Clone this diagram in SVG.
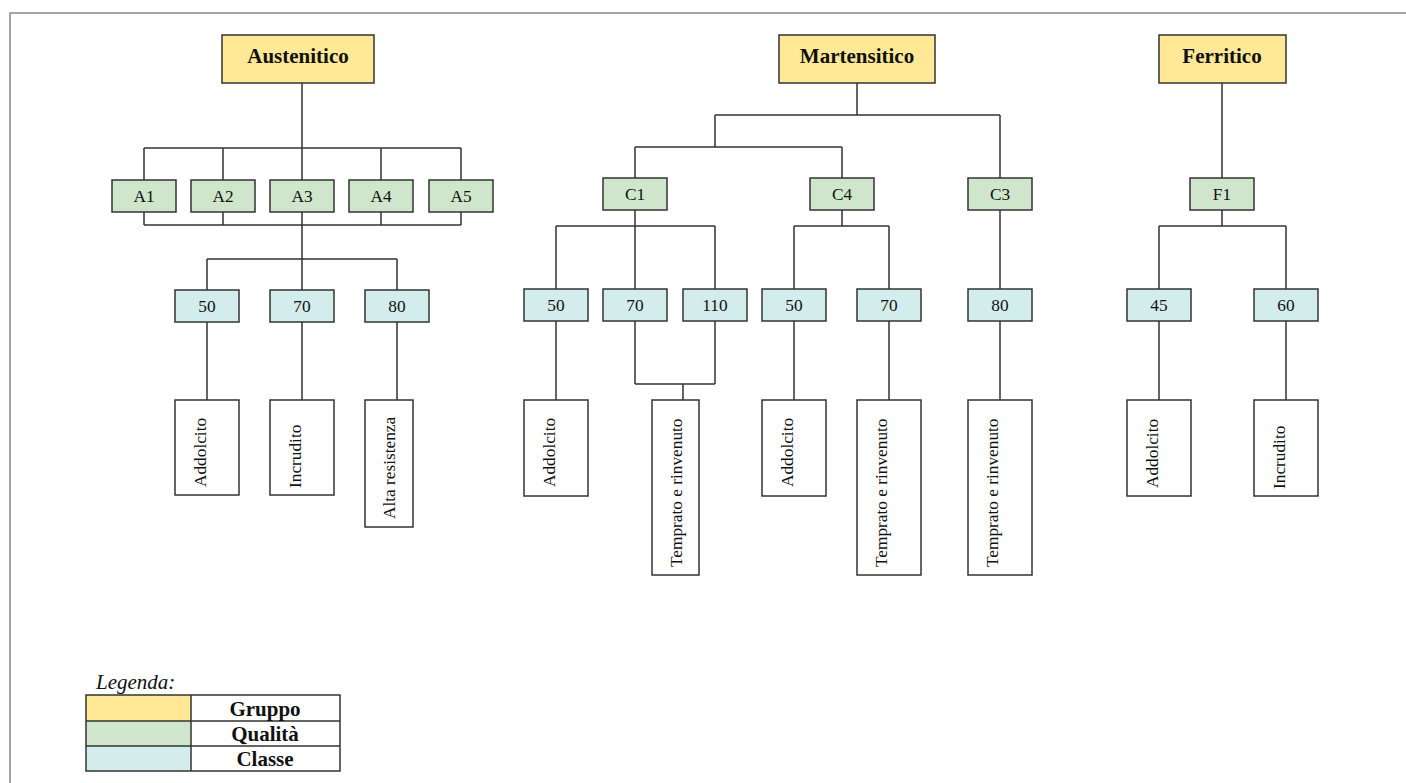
<svg xmlns="http://www.w3.org/2000/svg" width="1406" height="783" viewBox="0 0 1406 783">
<style>
.g{fill:#FFE896;stroke:#333;stroke-width:1.5}
.q{fill:#CFE6CC;stroke:#333;stroke-width:1.5}
.c{fill:#D3ECEC;stroke:#333;stroke-width:1.5}
.t{fill:#fff;stroke:#333;stroke-width:1.5}
.ln{fill:none;stroke:#333;stroke-width:1.5}
text{font-family:"Liberation Serif","Times New Roman",serif;fill:#111}
.gt{font-size:21px;font-weight:bold;text-anchor:middle}
.bt{font-size:17.3px;text-anchor:middle}
.vt{font-size:17.3px;text-anchor:start}
.lt{font-size:21px;font-weight:bold;text-anchor:middle}
</style>
<rect x="0" y="0" width="1406" height="783" fill="#fff"/>
<path d="M10,783 V13 H1406" fill="none" stroke="#888" stroke-width="1.5"/>

<g id="connectors" class="ln">
<!-- Austenitico -->
<path d="M302,83 V148 M144,148 H461 M144,148 V180 M223,148 V180 M302,148 V180 M381,148 V180 M461,148 V180"/>
<path d="M144,212 V225 M223,212 V225 M302,212 V225 M381,212 V225 M461,212 V225 M144,225 H461"/>
<path d="M302,225 V259 M207,259 H397 M207,259 V290 M302,259 V290 M397,259 V290"/>
<path d="M207,322 V400 M302,322 V400 M397,322 V400"/>
<!-- Martensitico -->
<path d="M857,83 V115 M715,115 H1000 M715,115 V147 M635,147 H842 M635,147 V178 M842,147 V178 M1000,115 V178"/>
<path d="M635,210 V289 M556,226 H715 M556,226 V289 M715,226 V289"/>
<path d="M842,210 V226 M794,226 H889 M794,226 V289 M889,226 V289"/>
<path d="M1000,210 V289"/>
<path d="M556,321 V400 M635,321 V384 M715,321 V384 M635,384 H715 M683,384 V400"/>
<path d="M794,321 V400 M889,321 V400 M1000,321 V400"/>
<!-- Ferritico -->
<path d="M1222,83 V178 M1222,210 V226 M1159,226 H1286 M1159,226 V289 M1286,226 V289 M1159,321 V400 M1286,321 V400"/>
</g>

<!-- Groups -->
<g id="austenitico"><rect class="g" x="222" y="35" width="152" height="48"/><text class="gt" x="298" y="63">Austenitico</text></g>
<g id="martensitico"><rect class="g" x="779" y="35" width="156" height="48"/><text class="gt" x="857" y="63">Martensitico</text></g>
<g id="ferritico"><rect class="g" x="1159" y="35" width="127" height="48"/><text class="gt" x="1222" y="63">Ferritico</text></g>

<!-- Qualità -->
<g id="A1"><rect class="q" x="112" y="180" width="64" height="32"/><text class="bt" x="144" y="202">A1</text></g>
<g id="A2"><rect class="q" x="191" y="180" width="64" height="32"/><text class="bt" x="223" y="202">A2</text></g>
<g id="A3"><rect class="q" x="270" y="180" width="64" height="32"/><text class="bt" x="302" y="202">A3</text></g>
<g id="A4"><rect class="q" x="349" y="180" width="64" height="32"/><text class="bt" x="381" y="202">A4</text></g>
<g id="A5"><rect class="q" x="429" y="180" width="64" height="32"/><text class="bt" x="461" y="202">A5</text></g>
<g id="C1"><rect class="q" x="603" y="178" width="64" height="32"/><text class="bt" x="635" y="200">C1</text></g>
<g id="C4"><rect class="q" x="810" y="178" width="64" height="32"/><text class="bt" x="842" y="200">C4</text></g>
<g id="C3"><rect class="q" x="968" y="178" width="64" height="32"/><text class="bt" x="1000" y="200">C3</text></g>
<g id="F1"><rect class="q" x="1190" y="178" width="64" height="32"/><text class="bt" x="1222" y="200">F1</text></g>

<!-- Classe -->
<g id="A3-50"><rect class="c" x="175" y="290" width="64" height="32"/><text class="bt" x="207" y="312">50</text></g>
<g id="A3-70"><rect class="c" x="270" y="290" width="64" height="32"/><text class="bt" x="302" y="312">70</text></g>
<g id="A3-80"><rect class="c" x="365" y="290" width="64" height="32"/><text class="bt" x="397" y="312">80</text></g>
<g id="C1-50"><rect class="c" x="524" y="289" width="64" height="32"/><text class="bt" x="556" y="311">50</text></g>
<g id="C1-70"><rect class="c" x="603" y="289" width="64" height="32"/><text class="bt" x="635" y="311">70</text></g>
<g id="C1-110"><rect class="c" x="683" y="289" width="64" height="32"/><text class="bt" x="715" y="311">110</text></g>
<g id="C4-50"><rect class="c" x="762" y="289" width="64" height="32"/><text class="bt" x="794" y="311">50</text></g>
<g id="C4-70"><rect class="c" x="857" y="289" width="64" height="32"/><text class="bt" x="889" y="311">70</text></g>
<g id="C3-80"><rect class="c" x="968" y="289" width="64" height="32"/><text class="bt" x="1000" y="311">80</text></g>
<g id="F1-45"><rect class="c" x="1127" y="289" width="64" height="32"/><text class="bt" x="1159" y="311">45</text></g>
<g id="F1-60"><rect class="c" x="1254" y="289" width="64" height="32"/><text class="bt" x="1286" y="311">60</text></g>

<!-- Trattamenti -->
<g id="A-addolcito"><rect class="t" x="175" y="400" width="64" height="95"/><text class="vt" transform="translate(206,487) rotate(-90)">Addolcito</text></g>
<g id="A-incrudito"><rect class="t" x="270" y="400" width="64" height="95"/><text class="vt" transform="translate(301,488) rotate(-90)">Incrudito</text></g>
<g id="A-alta"><rect class="t" x="365" y="400" width="48" height="127"/><text class="vt" transform="translate(395,519) rotate(-90)">Alta resistenza</text></g>
<g id="C1-addolcito"><rect class="t" x="524" y="400" width="64" height="96"/><text class="vt" transform="translate(555,487) rotate(-90)">Addolcito</text></g>
<g id="C1-temprato"><rect class="t" x="652" y="400" width="47" height="175"/><text class="vt" transform="translate(682,567) rotate(-90)">Temprato e rinvenuto</text></g>
<g id="C4-addolcito"><rect class="t" x="762" y="400" width="64" height="96"/><text class="vt" transform="translate(793,487) rotate(-90)">Addolcito</text></g>
<g id="C4-temprato"><rect class="t" x="857" y="400" width="64" height="175"/><text class="vt" transform="translate(887,567) rotate(-90)">Temprato e rinvenuto</text></g>
<g id="C3-temprato"><rect class="t" x="968" y="400" width="64" height="175"/><text class="vt" transform="translate(998,567) rotate(-90)">Temprato e rinvenuto</text></g>
<g id="F-addolcito"><rect class="t" x="1127" y="400" width="64" height="96"/><text class="vt" transform="translate(1158,488) rotate(-90)">Addolcito</text></g>
<g id="F-incrudito"><rect class="t" x="1254" y="400" width="64" height="96"/><text class="vt" transform="translate(1285,489) rotate(-90)">Incrudito</text></g>

<!-- Legenda -->
<g id="legenda">
<text x="96" y="689" style="font-size:21px;font-style:italic">Legenda:</text>
<rect x="86" y="695" width="105" height="26" fill="#FFE896"/>
<rect x="86" y="721" width="105" height="25" fill="#CFE6CC"/>
<rect x="86" y="746" width="105" height="25" fill="#D3ECEC"/>
<path d="M86,695 H340 V771 H86 Z M191,695 V771 M86,721 H340 M86,746 H340" fill="none" stroke="#333" stroke-width="1.5"/>
<text class="lt" x="265" y="716">Gruppo</text>
<text class="lt" x="265" y="741">Qualità</text>
<text class="lt" x="265" y="766">Classe</text>
</g>
</svg>
